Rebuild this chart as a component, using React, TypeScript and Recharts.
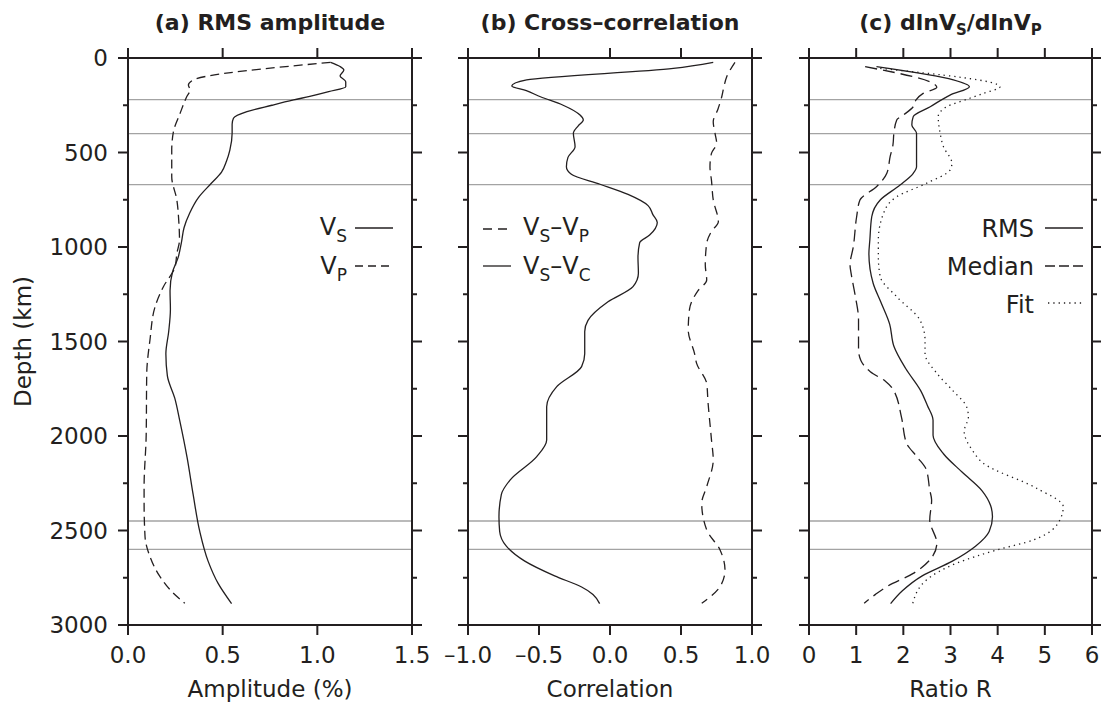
import { ReferenceLine, Scatter, ScatterChart, XAxis, YAxis } from 'recharts'

const INK = '#231f20'
const GRID = '#a3a3a3'
const FONT = '"DejaVu Sans", "Liberation Sans", Arial, sans-serif'

// depth axis (km), shared by the three panels
const depthTicks = [0, 250, 500, 750, 1000, 1250, 1500, 1750, 2000, 2250, 2500, 2750, 3000]
const discontinuities = [220, 400, 670, 2450, 2600]

// (a) RMS amplitude (%)
const ampTicks = [0, 0.5, 1, 1.5]
const vsAmpDepth = [23, 45, 63, 95, 125, 152, 178, 203, 222, 250, 284, 319, 350, 398, 487, 546, 604, 663, 741, 820, 898, 977, 1055, 1133, 1231, 1329, 1447, 1565, 1682, 1800, 1917, 2113, 2309, 2505, 2662, 2780, 2887]
const vsAmp = [1.07, 1.12, 1.14, 1.12, 1.15, 1.15, 1.06, 0.96, 0.875, 0.76, 0.628, 0.557, 0.55, 0.55, 0.538, 0.52, 0.494, 0.44, 0.37, 0.326, 0.296, 0.282, 0.265, 0.235, 0.222, 0.224, 0.215, 0.2, 0.208, 0.247, 0.273, 0.312, 0.344, 0.379, 0.423, 0.476, 0.547]
const vpAmpDepth = [23, 116, 143, 169, 205, 293, 390, 487, 628, 751, 860, 963, 1035, 1104, 1210, 1316, 1492, 1668, 1998, 2268, 2356, 2533, 2638, 2744, 2832, 2885]
const vpAmp = [1.07, 0.345, 0.319, 0.328, 0.31, 0.275, 0.24, 0.231, 0.231, 0.258, 0.268, 0.272, 0.258, 0.249, 0.187, 0.143, 0.116, 0.099, 0.096, 0.085, 0.085, 0.09, 0.116, 0.169, 0.24, 0.3]

// (b) cross-correlation
const corrTicks = [-1, -0.5, 0, 0.5, 1]
const spCorrDepth = [23, 99, 160, 205, 271, 337, 400, 451, 506, 575, 650, 751, 866, 918, 980, 1094, 1175, 1231, 1329, 1439, 1565, 1616, 1722, 1819, 2015, 2127, 2268, 2356, 2497, 2603, 2709, 2797, 2885]
const spCorr = [0.88, 0.822, 0.8, 0.787, 0.76, 0.727, 0.74, 0.751, 0.714, 0.704, 0.715, 0.727, 0.763, 0.714, 0.681, 0.671, 0.681, 0.62, 0.56, 0.551, 0.596, 0.61, 0.681, 0.69, 0.714, 0.727, 0.681, 0.646, 0.681, 0.775, 0.81, 0.775, 0.646]
const scCorrDepth = [23, 55, 116, 148, 173, 205, 250, 302, 328, 360, 398, 469, 526, 575, 615, 668, 722, 781, 830, 870, 937, 977, 1055, 1139, 1210, 1290, 1388, 1447, 1565, 1633, 1739, 1845, 2021, 2109, 2233, 2309, 2427, 2505, 2583, 2662, 2740, 2799, 2838, 2887]
const scCorr = [0.727, 0.446, -0.587, -0.692, -0.589, -0.49, -0.33, -0.211, -0.188, -0.225, -0.258, -0.246, -0.296, -0.307, -0.272, -0.07, 0.127, 0.268, 0.303, 0.333, 0.279, 0.209, 0.197, 0.2, 0.162, -0.014, -0.155, -0.178, -0.178, -0.2, -0.375, -0.446, -0.446, -0.516, -0.704, -0.765, -0.782, -0.777, -0.73, -0.6, -0.39, -0.2, -0.12, -0.073]

// (c) dlnVs/dlnVp ratio R
const ratioTicks = [0, 1, 2, 3, 4, 5, 6]
const rmsDepth = [46, 116, 152, 196, 258, 310, 354, 398, 500, 575, 610, 672, 751, 840, 963, 1035, 1192, 1290, 1408, 1525, 1643, 1761, 1839, 1917, 1996, 2094, 2192, 2290, 2368, 2427, 2505, 2583, 2662, 2740, 2819, 2887]
const rmsRatio = [1.43, 3.06, 3.4, 2.99, 2.57, 2.21, 2.18, 2.28, 2.28, 2.28, 2.21, 1.93, 1.51, 1.33, 1.29, 1.27, 1.36, 1.52, 1.71, 1.8, 2.05, 2.37, 2.51, 2.63, 2.63, 2.85, 3.25, 3.67, 3.85, 3.89, 3.82, 3.53, 3.04, 2.4, 1.98, 1.73]
const medianDepth = [46, 155, 187, 222, 258, 302, 328, 398, 460, 522, 610, 681, 751, 840, 998, 1095, 1150, 1251, 1386, 1545, 1600, 1660, 1710, 1757, 1900, 2039, 2113, 2180, 2286, 2339, 2444, 2568, 2656, 2727, 2797, 2838, 2885]
const medianRatio = [1.19, 2.71, 2.42, 2.27, 2.21, 2.0, 1.86, 1.8, 1.78, 1.72, 1.65, 1.43, 1.08, 1.01, 0.94, 0.87, 0.9, 0.975, 1.05, 1.05, 1.1, 1.3, 1.62, 1.79, 1.96, 2.07, 2.3, 2.49, 2.56, 2.6, 2.56, 2.71, 2.56, 2.21, 1.65, 1.41, 1.17]
const fitDepth = [55, 152, 187, 213, 258, 310, 398, 469, 557, 593, 663, 734, 822, 963, 1051, 1157, 1263, 1386, 1492, 1563, 1668, 1760, 1845, 1898, 1976, 2074, 2145, 2277, 2374, 2444, 2550, 2603, 2673, 2762, 2885]
const fitRatio = [1.51, 4.05, 3.7, 3.41, 2.92, 2.74, 2.78, 2.85, 3.03, 2.99, 2.49, 1.86, 1.58, 1.47, 1.47, 1.51, 1.86, 2.35, 2.46, 2.46, 2.71, 3.05, 3.34, 3.38, 3.29, 3.46, 3.7, 4.83, 5.39, 5.32, 4.76, 3.98, 3.13, 2.49, 2.2]

interface Series {
  depth: number[]
  values: number[]
  dash?: string
}

const toPoints = (depth: number[], values: number[]) => depth.map((d, i) => ({ depth: d, v: values[i] }))

const axisLine = { stroke: INK, strokeWidth: 2, strokeLinecap: 'square' as const }
const noDot = () => <g />

function DepthTick({ x, y, payload, dir, showLabel }: any) {
  const major = payload.value % 500 === 0
  const len = major ? 10 : 5
  return (
    <g>
      <line x1={x} y1={y} x2={x + dir * len} y2={y} stroke={INK} strokeWidth={2} />
      {showLabel && major && (
        <text x={x - 20} y={y + 8.4} textAnchor="end" fontSize={23} fontFamily={FONT} fill={INK}>
          {payload.value}
        </text>
      )}
    </g>
  )
}

function ValueTick({ x, y, payload, dir, format }: any) {
  return (
    <g>
      <line x1={x} y1={y} x2={x} y2={y + dir * 10} stroke={INK} strokeWidth={2} />
      {format && (
        <text x={x} y={y + 37.5} textAnchor="middle" fontSize={23} fontFamily={FONT} fill={INK}>
          {format(payload.value)}
        </text>
      )}
    </g>
  )
}

interface PanelProps {
  left: number
  width: number
  marginLeft: number
  marginRight: number
  domain: [number, number]
  ticks: number[]
  format: (v: number) => string
  depthLabels?: boolean
  series: Series[]
}

// axes are 1px thick boxes (a 0 size axis is not drawn), margins are set so the plot box is exact
function Panel({ left, width, marginLeft, marginRight, domain, ticks, format, depthLabels, series }: PanelProps) {
  return (
    <div style={{ position: 'absolute', left, top: 0 }}>
      <ScatterChart width={width} height={708} margin={{ top: 57, right: marginRight, bottom: 82, left: marginLeft }}>
        <XAxis type="number" dataKey="v" domain={domain} ticks={ticks} interval={0} allowDataOverflow height={1} tickSize={0} tickMargin={0} tickLine={false} axisLine={axisLine} tick={(p: any) => <ValueTick {...p} dir={1} format={format} />} />
        <XAxis xAxisId="top" orientation="top" type="number" dataKey="v" domain={domain} ticks={ticks} interval={0} allowDataOverflow height={1} tickSize={0} tickMargin={0} tickLine={false} axisLine={axisLine} tick={(p: any) => <ValueTick {...p} dir={-1} />} />
        <YAxis type="number" dataKey="depth" domain={[0, 3000]} reversed ticks={depthTicks} interval={0} allowDataOverflow width={1} tickSize={0} tickMargin={0} tickLine={false} axisLine={axisLine} tick={(p: any) => <DepthTick {...p} dir={-1} showLabel={depthLabels} />} />
        <YAxis yAxisId="right" orientation="right" type="number" dataKey="depth" domain={[0, 3000]} reversed ticks={depthTicks} interval={0} allowDataOverflow width={1} tickSize={0} tickMargin={0} tickLine={false} axisLine={axisLine} tick={(p: any) => <DepthTick {...p} dir={1} />} />
        {discontinuities.map((d) => (
          <ReferenceLine key={d} y={d} stroke={GRID} strokeWidth={1.4} />
        ))}
        {series.map((s, i) => (
          <Scatter
            key={i}
            data={toPoints(s.depth, s.values)}
            line={{ stroke: INK, strokeWidth: 1.3, strokeDasharray: s.dash }}
            lineJointType="monotoneY"
            shape={noDot}
            isAnimationActive={false}
          />
        ))}
      </ScatterChart>
    </div>
  )
}

const fmtOne = (v: number) => (v < 0 ? `–${Math.abs(v).toFixed(1)}` : v.toFixed(1))
const fmtInt = (v: number) => String(v)

export default function App() {
  return (
    <div style={{ position: 'absolute', left: 0, top: 0, width: 1101, height: 708, background: '#fff', overflow: 'hidden' }}>
      <Panel
        left={0}
        width={435}
        marginLeft={127}
        marginRight={22}
        domain={[0, 1.5]}
        ticks={ampTicks}
        format={fmtOne}
        depthLabels
        series={[
          { depth: vsAmpDepth, values: vsAmp },
          { depth: vpAmpDepth, values: vpAmp, dash: '9 5' },
        ]}
      />
      <Panel
        left={435}
        width={350}
        marginLeft={32}
        marginRight={32}
        domain={[-1, 1]}
        ticks={corrTicks}
        format={fmtOne}
        series={[
          { depth: scCorrDepth, values: scCorr },
          { depth: spCorrDepth, values: spCorr, dash: '9 6' },
        ]}
      />
      <Panel
        left={785}
        width={316}
        marginLeft={23}
        marginRight={8}
        domain={[0, 6]}
        ticks={ratioTicks}
        format={fmtInt}
        series={[
          { depth: rmsDepth, values: rmsRatio },
          { depth: medianDepth, values: medianRatio, dash: '12 6' },
          { depth: fitDepth, values: fitRatio, dash: '1.3 4' },
        ]}
      />
      <svg width={1101} height={708} style={{ position: 'absolute', left: 0, top: 0, pointerEvents: 'none' }} fontFamily={FONT} fill={INK}>
        <g fontSize={22} fontWeight="bold" textAnchor="middle">
          <text x={270} y={30}>(a) RMS amplitude</text>
          <text x={610} y={30}>(b) Cross–correlation</text>
          <text x={950.5} y={30}>
            (c) dlnV<tspan fontSize={15} dy={4.5}>S</tspan>
            <tspan dy={-4.5}>/dlnV</tspan>
            <tspan fontSize={15} dy={4.5}>P</tspan>
          </text>
        </g>
        <g fontSize={23} textAnchor="middle">
          <text x={270} y={697}>Amplitude (%)</text>
          <text x={610} y={697}>Correlation</text>
          <text x={950.5} y={697}>Ratio R</text>
          <text transform="translate(31,341.5) rotate(-90)">Depth (km)</text>
        </g>

        {/* legend (a) */}
        <g fontSize={24} textAnchor="end">
          <text x={347} y={235}>V<tspan fontSize={17} dy={7}>S</tspan></text>
          <text x={347} y={274}>V<tspan fontSize={17} dy={7}>P</tspan></text>
        </g>
        <line x1={355} y1={228} x2={393} y2={228} stroke={INK} strokeWidth={1.3} />
        <line x1={355} y1={266} x2={393} y2={266} stroke={INK} strokeWidth={1.3} strokeDasharray="8 5" />

        {/* legend (b) */}
        <line x1={483} y1={229} x2={511} y2={229} stroke={INK} strokeWidth={1.3} strokeDasharray="9 6" />
        <line x1={483} y1={266} x2={511} y2={266} stroke={INK} strokeWidth={1.3} />
        <g fontSize={24}>
          <text x={523} y={235}>
            V<tspan fontSize={17} dy={7}>S</tspan>
            <tspan dy={-7}>–V</tspan>
            <tspan fontSize={17} dy={7}>P</tspan>
          </text>
          <text x={523} y={274}>
            V<tspan fontSize={17} dy={7}>S</tspan>
            <tspan dy={-7}>–V</tspan>
            <tspan fontSize={17} dy={7}>C</tspan>
          </text>
        </g>

        {/* legend (c) */}
        <g fontSize={24} textAnchor="end">
          <text x={1034} y={237}>RMS</text>
          <text x={1034} y={275}>Median</text>
          <text x={1034} y={313}>Fit</text>
        </g>
        <line x1={1045} y1={228} x2={1083} y2={228} stroke={INK} strokeWidth={1.3} />
        <line x1={1045} y1={266} x2={1083} y2={266} stroke={INK} strokeWidth={1.3} strokeDasharray="10 4" />
        <line x1={1048} y1={303} x2={1083} y2={303} stroke={INK} strokeWidth={1.3} strokeDasharray="1.3 4" />
      </svg>
    </div>
  )
}
